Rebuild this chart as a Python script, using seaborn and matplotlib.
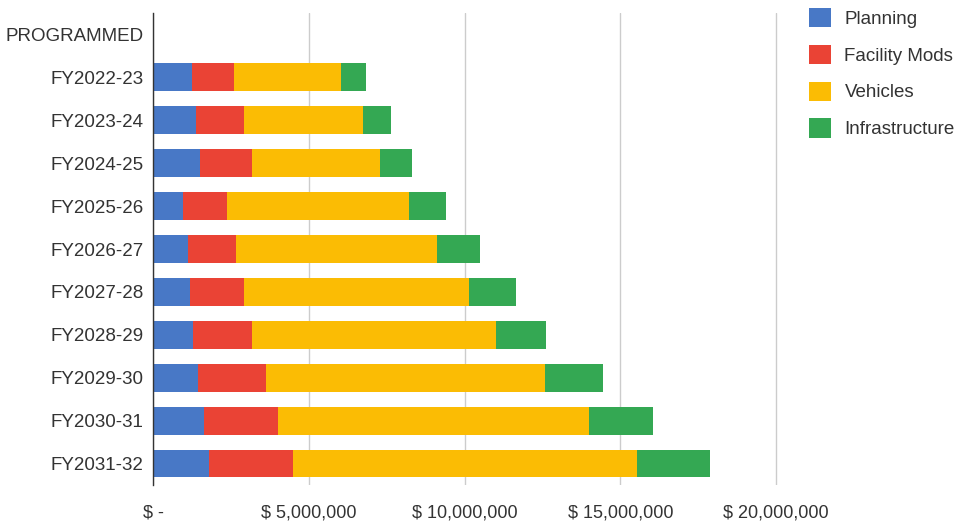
import numpy as np
import pandas as pd
import matplotlib
matplotlib.use("Agg")
import matplotlib.pyplot as plt
from matplotlib.patches import Patch
from matplotlib.ticker import FuncFormatter
import seaborn as sns

categories = ["PROGRAMMED", "FY2022-23", "FY2023-24", "FY2024-25", "FY2025-26", "FY2026-27",
              "FY2027-28", "FY2028-29", "FY2029-30", "FY2030-31", "FY2031-32"]
planning = [0, 1.25e6, 1.38e6, 1.50e6, 0.95e6, 1.11e6, 1.19e6, 1.30e6, 1.46e6, 1.65e6, 1.80e6]
facility_mods = [0, 1.36e6, 1.53e6, 1.67e6, 1.41e6, 1.56e6, 1.72e6, 1.87e6, 2.16e6, 2.37e6, 2.69e6]
vehicles = [0, 3.42e6, 3.84e6, 4.13e6, 5.87e6, 6.46e6, 7.23e6, 7.83e6, 8.95e6, 9.97e6, 11.06e6]
infrastructure = [0, 0.81e6, 0.90e6, 1.02e6, 1.19e6, 1.36e6, 1.51e6, 1.62e6, 1.87e6, 2.05e6, 2.32e6]
series_names = ["Planning", "Facility Mods", "Vehicles", "Infrastructure"]
colors = ["#4878C6", "#EA4335", "#FBBC04", "#34A853"]
x_ticks = [0, 5e6, 10e6, 15e6, 20e6]

sns.set_theme(style="white")
plt.rcParams['font.family'] = ['Liberation Sans', 'DejaVu Sans']

df = pd.DataFrame({"cat": categories, "Planning": planning, "Facility Mods": facility_mods,
                   "Vehicles": vehicles, "Infrastructure": infrastructure})
cum = df[series_names].cumsum(axis=1)

fig = plt.figure(figsize=(9.61, 5.25), dpi=100)
ax = fig.add_axes([153/961, 1-485/525, (778-153)/961, (485-13)/525])

for name, color in reversed(list(zip(series_names, colors))):
    sns.barplot(x=cum[name], y=df["cat"], orient="h", color=color, width=0.65,
                saturation=1, ax=ax, order=categories, linewidth=0, edgecolor="none")

ax.set_xlim(0, 20e6 * 625 / 623)
ax.set_xticks(x_ticks)
ax.xaxis.set_major_formatter(FuncFormatter(lambda v, p: "$ -" if v == 0 else f"$ {v:,.0f}"))
ax.set_xlabel("")
ax.set_ylabel("")
ax.tick_params(axis="y", labelsize=13.5, colors="#333333", length=0, pad=7)
ax.tick_params(axis="x", labelsize=13, colors="#333333", length=0, pad=14)
ax.grid(axis="x", color="#cccccc", linewidth=1)
ax.set_axisbelow(True)
for s in ["top", "right", "bottom"]:
    ax.spines[s].set_visible(False)
ax.spines["left"].set_color("#333333")
ax.spines["left"].set_linewidth(1)

handles = [Patch(facecolor=c, edgecolor="none", label=n) for n, c in zip(series_names, colors)]
fig.legend(handles=handles, loc="upper left", bbox_to_anchor=(792/961, 1+9/525), frameon=False,
           fontsize=13.5, handlelength=1.2, handleheight=1.2, labelspacing=0.9,
           handletextpad=0.7, labelcolor="#333333")

fig.savefig("out.png", dpi=100)
